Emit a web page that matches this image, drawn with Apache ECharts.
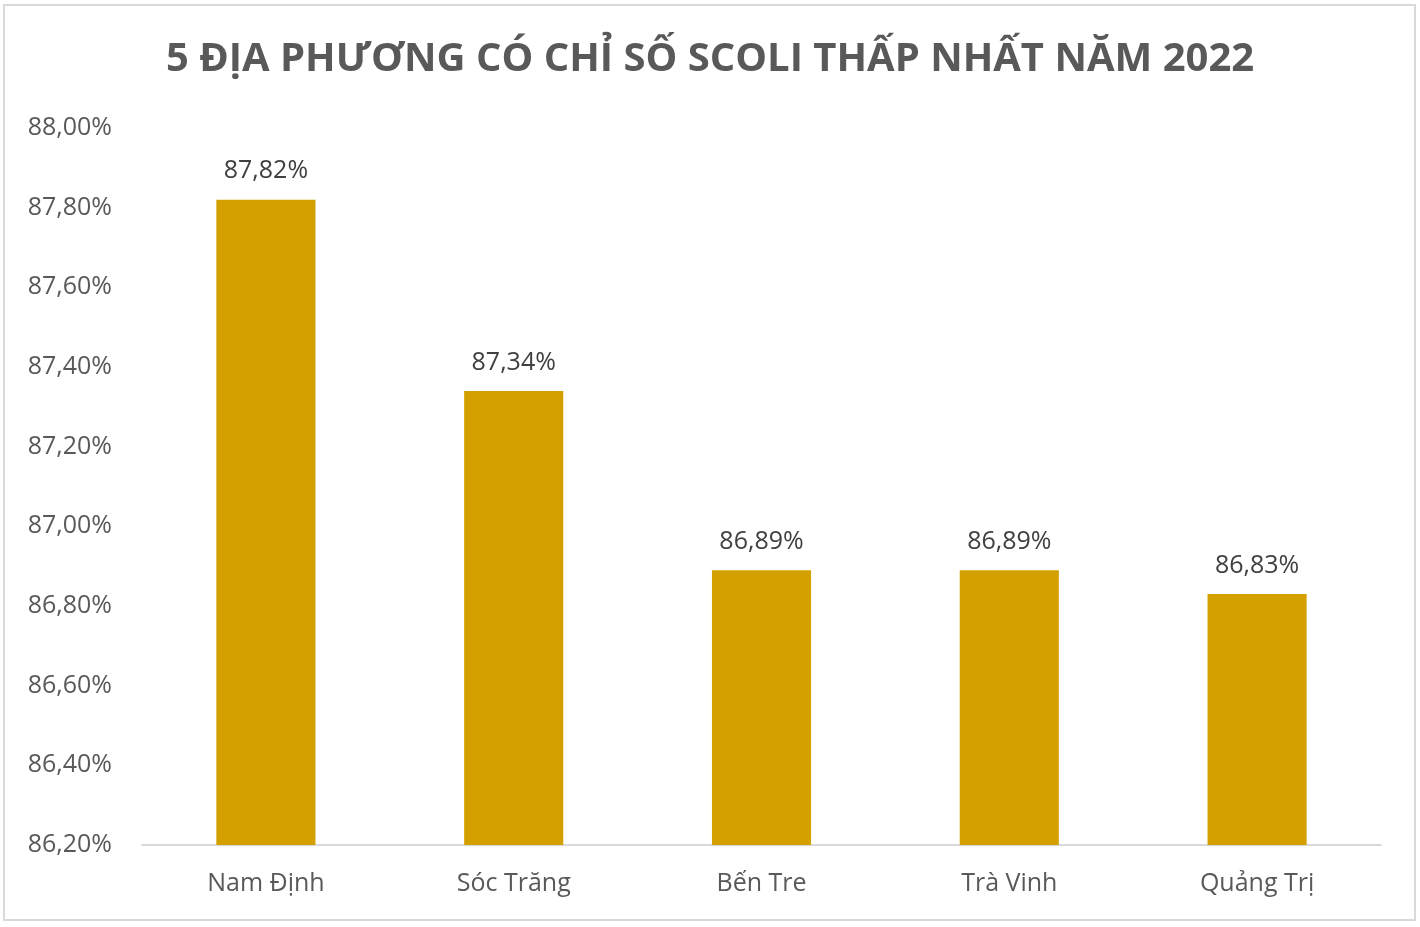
<!DOCTYPE html>
<html>
<head>
<meta charset="utf-8">
<script src="https://cdn.jsdelivr.net/npm/echarts@6/dist/echarts.min.js"></script>
<style>
html,body{margin:0;padding:0;background:#fff;}
#wrap{position:absolute;left:3px;top:4px;width:1413px;height:917px;border:2px solid #d9d9d9;box-sizing:border-box;}
#c{position:absolute;left:0;top:0;width:1420px;height:927px;}
</style>
</head>
<body>
<div id="wrap"></div>
<div id="c"></div>
<script>
const categories = ['Nam Định', 'Sóc Trăng', 'Bến Tre', 'Trà Vinh', 'Quảng Trị'];
const values = [87.82, 87.34, 86.89, 86.89, 86.83];
const titleText = '5 ĐỊA PHƯƠNG CÓ CHỈ SỐ SCOLI THẤP NHẤT NĂM 2022';
const yMin = 86.2, yMax = 88.0, yStep = 0.2;

const fmt = v => v.toFixed(2).replace('.', ',') + '%';
const chart = echarts.init(document.getElementById('c'));
chart.setOption({
  animation: false,
  title: {
    text: titleText, left: 'center', top: 35,
    textStyle: {fontFamily: 'Open Sans', fontWeight: 'bold', fontSize: 40, color: '#595959'}
  },
  grid: {left: 142, right: 39, top: 128, bottom: 82, containLabel: false},
  xAxis: {
    type: 'category', data: categories,
    axisLine: {lineStyle: {color: '#d9d9d9', width: 2}},
    axisTick: {show: false},
    axisLabel: {fontFamily: 'Open Sans', fontSize: 25, color: '#595959', margin: 26}
  },
  yAxis: {
    type: 'value', min: yMin, max: yMax, interval: yStep,
    axisLine: {show: false}, axisTick: {show: false},
    splitLine: {show: false},
    axisLabel: {fontFamily: 'Open Sans', fontSize: 25, color: '#595959', margin: 30,
      formatter: v => fmt(v)}
  },
  series: [{
    type: 'bar', data: values, barWidth: '40%',
    itemStyle: {color: '#D4A000'},
    label: {show: true, position: 'top', distance: 16, fontFamily: 'Open Sans', fontSize: 25, color: '#404040',
      formatter: p => fmt(p.value)}
  }]
});
</script>
</body>
</html>
